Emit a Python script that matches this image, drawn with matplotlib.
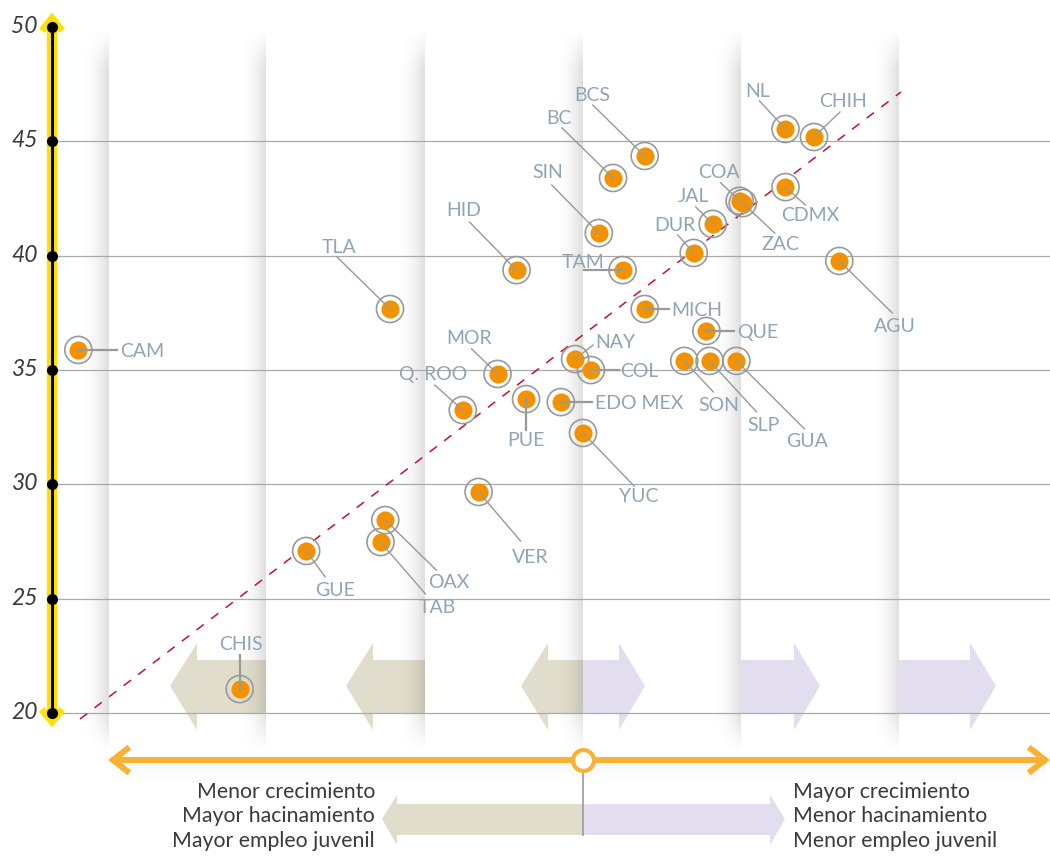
import matplotlib
matplotlib.use("Agg")
import matplotlib.pyplot as plt
import numpy as np
from matplotlib.patches import Polygon

plt.rcParams["font.family"] = ["Lato", "DejaVu Sans"]

# data: x = relative position (0 = centre marker), y = value on the vertical axis
states = ["CAM", "CHIS", "GUE", "TAB", "OAX", "TLA", "VER", "Q. ROO", "MOR",
          "HID", "PUE", "EDO MEX", "YUC", "NAY", "COL", "SIN", "BC", "BCS",
          "TAM", "MICH", "DUR", "JAL", "COA", "ZAC", "QUE", "SON", "SLP",
          "GUA", "NL", "CHIH", "CDMX", "AGU"]
x_vals = [-3.19, -2.17, -1.75, -1.28, -1.25, -1.22, -0.66, -0.76, -0.54,
          -0.42, -0.36, -0.14, 0.00, -0.05, 0.05, 0.10, 0.19, 0.39,
          0.25, 0.39, 0.70, 0.82, 0.99, 1.01, 0.78, 0.64, 0.80,
          0.97, 1.28, 1.46, 1.28, 1.62]
y_vals = [35.88, 21.05, 27.09, 27.48, 28.44, 37.67, 29.67, 33.25, 34.83,
          39.37, 33.73, 33.60, 32.25, 35.48, 35.00, 40.99, 43.40, 44.36,
          39.37, 37.67, 40.12, 41.39, 42.40, 42.30, 36.71, 35.40, 35.40,
          35.40, 45.54, 45.19, 43.00, 39.77]
y_ticks = [20, 25, 30, 35, 40, 45, 50]
trend_x = [-3.18, 2.01]
trend_y = [19.74, 47.16]
left_text = ["Menor crecimiento", "Mayor hacinamiento", "Mayor empleo juvenil"]
right_text = ["Mayor crecimiento", "Menor hacinamiento", "Menor empleo juvenil"]

# label layout, in pixels from the point (image y grows down):
# text dx, text dy, ha, leader-end dx, leader-end dy
LAYOUT = {
    "CAM": (42, 0, "left", 39, 0), "CHIS": (1, -46, "center", 0, -34),
    "GUE": (29, 38, "center", 19, 26), "TAB": (57, 64, "center", 45, 52),
    "OAX": (64, 61, "center", 51, 50), "TLA": (-51, -63, "center", -53, -52),
    "VER": (52, 64, "center", 42, 49), "Q. ROO": (-30, -37, "center", -28, -25),
    "MOR": (-29, -37, "center", -26, -25), "HID": (-53, -61, "center", -47, -48),
    "PUE": (0, 40, "center", 0, 31), "EDO MEX": (34, 0, "left", 31, 0),
    "YUC": (56, 62, "center", 51, 53), "NAY": (40, -18, "center", 18, -14),
    "COL": (29, 0, "left", 28, 0), "SIN": (-51, -62, "center", -47, -48),
    "BC": (-54, -61, "center", -51, -50), "BCS": (-52, -62, "center", -52, -51),
    "TAM": (-39, -9, "center", -39, 0), "MICH": (27, 0, "left", 24, 0),
    "DUR": (-19, -29, "center", -16, -18), "JAL": (-19, -29, "center", -17, -17),
    "COA": (-21, -30, "center", -19, -18), "ZAC": (38, 40, "center", 32, 30),
    "QUE": (31, 0, "left", 28, 0), "SON": (35, 43, "center", 29, 31),
    "SLP": (54, 63, "center", 47, 51), "GUA": (71, 79, "center", 68, 68),
    "NL": (-28, -39, "center", -26, -28), "CHIH": (29, -37, "center", 26, -25),
    "CDMX": (25, 27, "center", 20, 18), "AGU": (56, 64, "center", 53, 52),
}

W, H = 1050, 857
SX, SY = 158.2, 22.87          # pixels per data unit


def X(px):
    return (px - 583) / SX


def Y(py):
    return 50 - (py - 27) / SY


fig = plt.figure(figsize=(W / 100, H / 100), dpi=100)
ax = fig.add_axes([0, 0, 1, 1])
ax.axis("off")

BEIGE, LILAC = "#e1ddcc", "#e2def0"
ORANGE, YELLOW = "#f8b133", "#ffe100"
LABEL = "#8fa4b4"

# arrows inside the plot
for tip, base in [(170, 266), (346, 425), (521, 583)]:
    pts = [(tip, 686), (tip + 27, 643), (tip + 27, 660), (base, 660),
           (base, 713), (tip + 27, 713), (tip + 27, 730)]
    ax.add_patch(Polygon([(X(a), Y(b)) for a, b in pts], fc=BEIGE, ec="none", zorder=1))
for base, tip in [(583, 645), (741, 820), (899, 996)]:
    pts = [(tip, 686), (tip - 26, 643), (tip - 26, 660), (base, 660),
           (base, 713), (tip - 26, 713), (tip - 26, 730)]
    ax.add_patch(Polygon([(X(a), Y(b)) for a, b in pts], fc=LILAC, ec="none", zorder=1))

# stripe shadows
gx = np.linspace(0, 1, 60) ** 2.2
gy = np.ones(200)
gy[:12] = np.linspace(0, 1, 12)
gy[-12:] = np.linspace(1, 0, 12)
shade = np.zeros((200, 60, 4))
shade[..., :3] = 0.35
shade[..., 3] = 0.2 * gy[:, None] * gx[None, :]
for e in [108, 266, 425, 583, 741, 899]:
    ax.imshow(shade, extent=[X(e - 30), X(e), Y(752), Y(28)], aspect="auto",
              interpolation="bilinear", zorder=2)

# grid
for t in y_ticks[:-1]:
    ax.plot([X(52), X(W)], [t, t], color="#aaaaaa", lw=0.9, zorder=3)

# trend line
ax.plot(trend_x, trend_y, color="#c8102e", lw=1.1, dashes=(6, 6), zorder=4)

# points
ax.scatter(x_vals, y_vals, s=380, facecolor="none", edgecolor="#9a9a9a",
           lw=1.2, zorder=5)
ax.scatter(x_vals, y_vals, s=170, color="#f39200", lw=0, zorder=6)
for name, x, y in zip(states, x_vals, y_vals):
    tdx, tdy, ha, ldx, ldy = LAYOUT[name]
    lw = 1.6 if (ldx == 0 or ldy == 0) else 1.0
    ax.plot([x, x + ldx / SX], [y, y - ldy / SY], color="#999999", lw=lw, zorder=7)
    ax.text(x + tdx / SX, y - (tdy + 7) / SY, name, ha=ha, va="baseline",
            fontsize=14, color=LABEL, zorder=8)

# vertical axis
ax.plot([X(52), X(52)], [Y(24), Y(716)], color=YELLOW, lw=7.5, zorder=9,
        solid_capstyle="butt")
for pts in [[(44, 28), (52, 18), (60, 28)], [(44, 712), (52, 722), (60, 712)]]:
    ax.plot([X(a) for a, b in pts], [Y(b) for a, b in pts], color=YELLOW,
            lw=5, zorder=9, solid_joinstyle="miter")
ax.plot([X(52), X(52)], [20, 50], color="black", lw=2.2, zorder=10)
ax.plot([X(52)] * len(y_ticks), y_ticks, "o", color="black", ms=7, zorder=11)
for t in y_ticks:
    ax.text(X(38), t - 6 / SY, str(t), ha="right", va="baseline", fontsize=16.5,
            style="italic", color="#3a3a3a")

# horizontal axis with soft shadow
sh = np.zeros((30, 2, 4))
sh[..., :3] = 0.3
sh[..., 3] = (np.linspace(0.12, 0, 30) ** 1.5)[:, None]
ax.imshow(sh, extent=[X(112), X(1046), Y(786), Y(763)], aspect="auto",
          interpolation="bilinear", zorder=11)
ax.plot([X(114), X(1044)], [Y(760), Y(760)], color=ORANGE, lw=4.3, zorder=12)
for pts in [[(127, 749), (113, 760), (127, 771)], [(1031, 749), (1045, 760), (1031, 771)]]:
    ax.plot([X(a) for a, b in pts], [Y(b) for a, b in pts], color=ORANGE,
            lw=4.3, zorder=12, solid_joinstyle="miter")
ax.plot([X(583), X(583)], [Y(760), Y(835)], color="#999999", lw=1.2, zorder=11)
ax.plot([X(583)], [Y(760)], "o", ms=15, mfc="white", mec=ORANGE, mew=3, zorder=13)

# legend arrows and text
pts = [(382, 819), (397, 795), (397, 804), (583, 804), (583, 835), (397, 835), (397, 845)]
ax.add_patch(Polygon([(X(a), Y(b)) for a, b in pts], fc=BEIGE, ec="none", zorder=10))
pts = [(785, 819), (770, 795), (770, 804), (583, 804), (583, 835), (770, 835), (770, 845)]
ax.add_patch(Polygon([(X(a), Y(b)) for a, b in pts], fc=LILAC, ec="none", zorder=10))
for i, (lt, rt) in enumerate(zip(left_text, right_text)):
    yb = Y(798 + 24.5 * i)
    ax.text(X(375), yb, lt, ha="right", va="baseline", fontsize=15.3, color="#3a3a3a")
    ax.text(X(793), yb, rt, ha="left", va="baseline", fontsize=15.3, color="#3a3a3a")

ax.set_xlim(X(0), X(W))
ax.set_ylim(Y(H), Y(0))
fig.savefig("out.png", dpi=100)
